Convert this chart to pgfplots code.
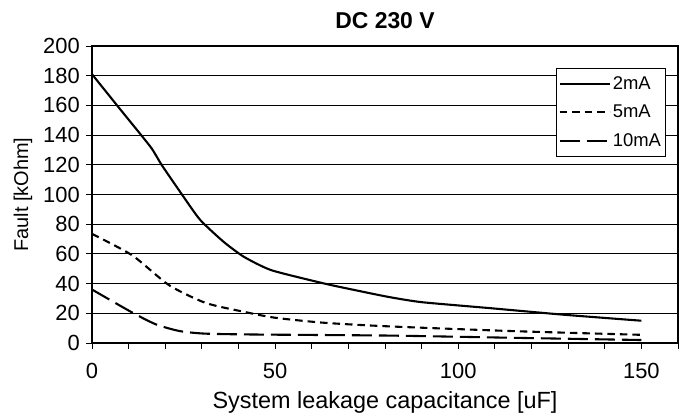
\documentclass[border=0pt]{standalone}
\usepackage{pgfplots}
\pgfplotsset{compat=1.18}
\usepackage{fontspec}
\setmainfont{Liberation Sans}
\begin{document}
\begin{tikzpicture}
\begin{axis}[
  name=ax,
  scale only axis,
  width=586bp, height=297bp,
  xmin=0, xmax=160, ymin=0, ymax=200,
  xtick={0,10,...,160},
  xticklabels={0,,,,,50,,,,,100,,,,,150,},
  ytick={0,20,...,200},
  tick align=outside,
  xtick pos=bottom, ytick pos=left,
  major tick length=6bp,
  ymajorgrids, grid style={black, line width=0.9pt},
  axis line style={line width=1.6pt},
  tick style={black, line width=0.9pt},
  every tick label/.append style={font=\fontsize{22}{24}\selectfont},
  xticklabel style={anchor=center, yshift=-22bp},
  yticklabel style={anchor=east, inner sep=0pt, xshift=-6bp},
  /pgf/number format/assume math mode=true,
  xlabel={System leakage capacitance [uF]},
  ylabel={\fontsize{20}{24}\selectfont Fault [kOhm]},
  every axis x label/.style={at={(rel axis cs:0.5,0)}, anchor=center, yshift=-59bp, font=\fontsize{23.5}{26}\selectfont},
  every axis y label/.style={at={(rel axis cs:0,0.5)}, anchor=center, xshift=-69bp, rotate=90},
  title={\textbf{DC 230 V}},
  every axis title/.style={at={(rel axis cs:0.5,1)}, anchor=center, yshift=25bp, font=\fontsize{23}{26}\selectfont},
  legend style={at={(rel axis cs:0.9796,0.926)}, anchor=north east, draw=black, line width=0.9pt,
    row sep=10bp, inner xsep=2.7bp, inner ysep=6.5bp},
  legend cell align=left,
  legend image code/.code={\draw[#1, line width=2.1pt] (0bp,0bp) -- (50bp,0bp);},
]
\addplot[black, line width=2.1pt, smooth, tension=0.35] coordinates {
(0,181) (7.5,158) (16,132) (19,120) (24,102) (29.5,83) (36,68) (41.5,58) (49,49) (63.5,40) (73,35) (81,31) (90,27.5) (109,23.4) (129,19) (150,15)};
\addlegendentry{\fontsize{18.5}{21}\selectfont 2mA}
\addplot[black, line width=2.1pt, smooth, tension=0.4, dash pattern=on 7.5bp off 5bp] coordinates {
(0,73.5) (11,59) (21,39) (31,27) (41.5,21) (50,17) (63.5,13.6) (81,11.2) (115,8) (150,5.5)};
\addlegendentry{\fontsize{18.5}{21}\selectfont 5mA}
\addplot[black, line width=2.1pt, smooth, tension=0.4, dash pattern=on 20bp off 7bp] coordinates {
(0,36) (11,20.5) (17.5,12.5) (24,8) (31,6.3) (45,5.7) (81,5) (115,3.5) (150,2)};
\addlegendentry{\fontsize{18.5}{21}\selectfont 10mA}
\end{axis}
\path (ax.south west) ++(-92bp,-73bp);
\path (ax.north east) ++(5bp,46bp);
\end{tikzpicture}
\end{document}
